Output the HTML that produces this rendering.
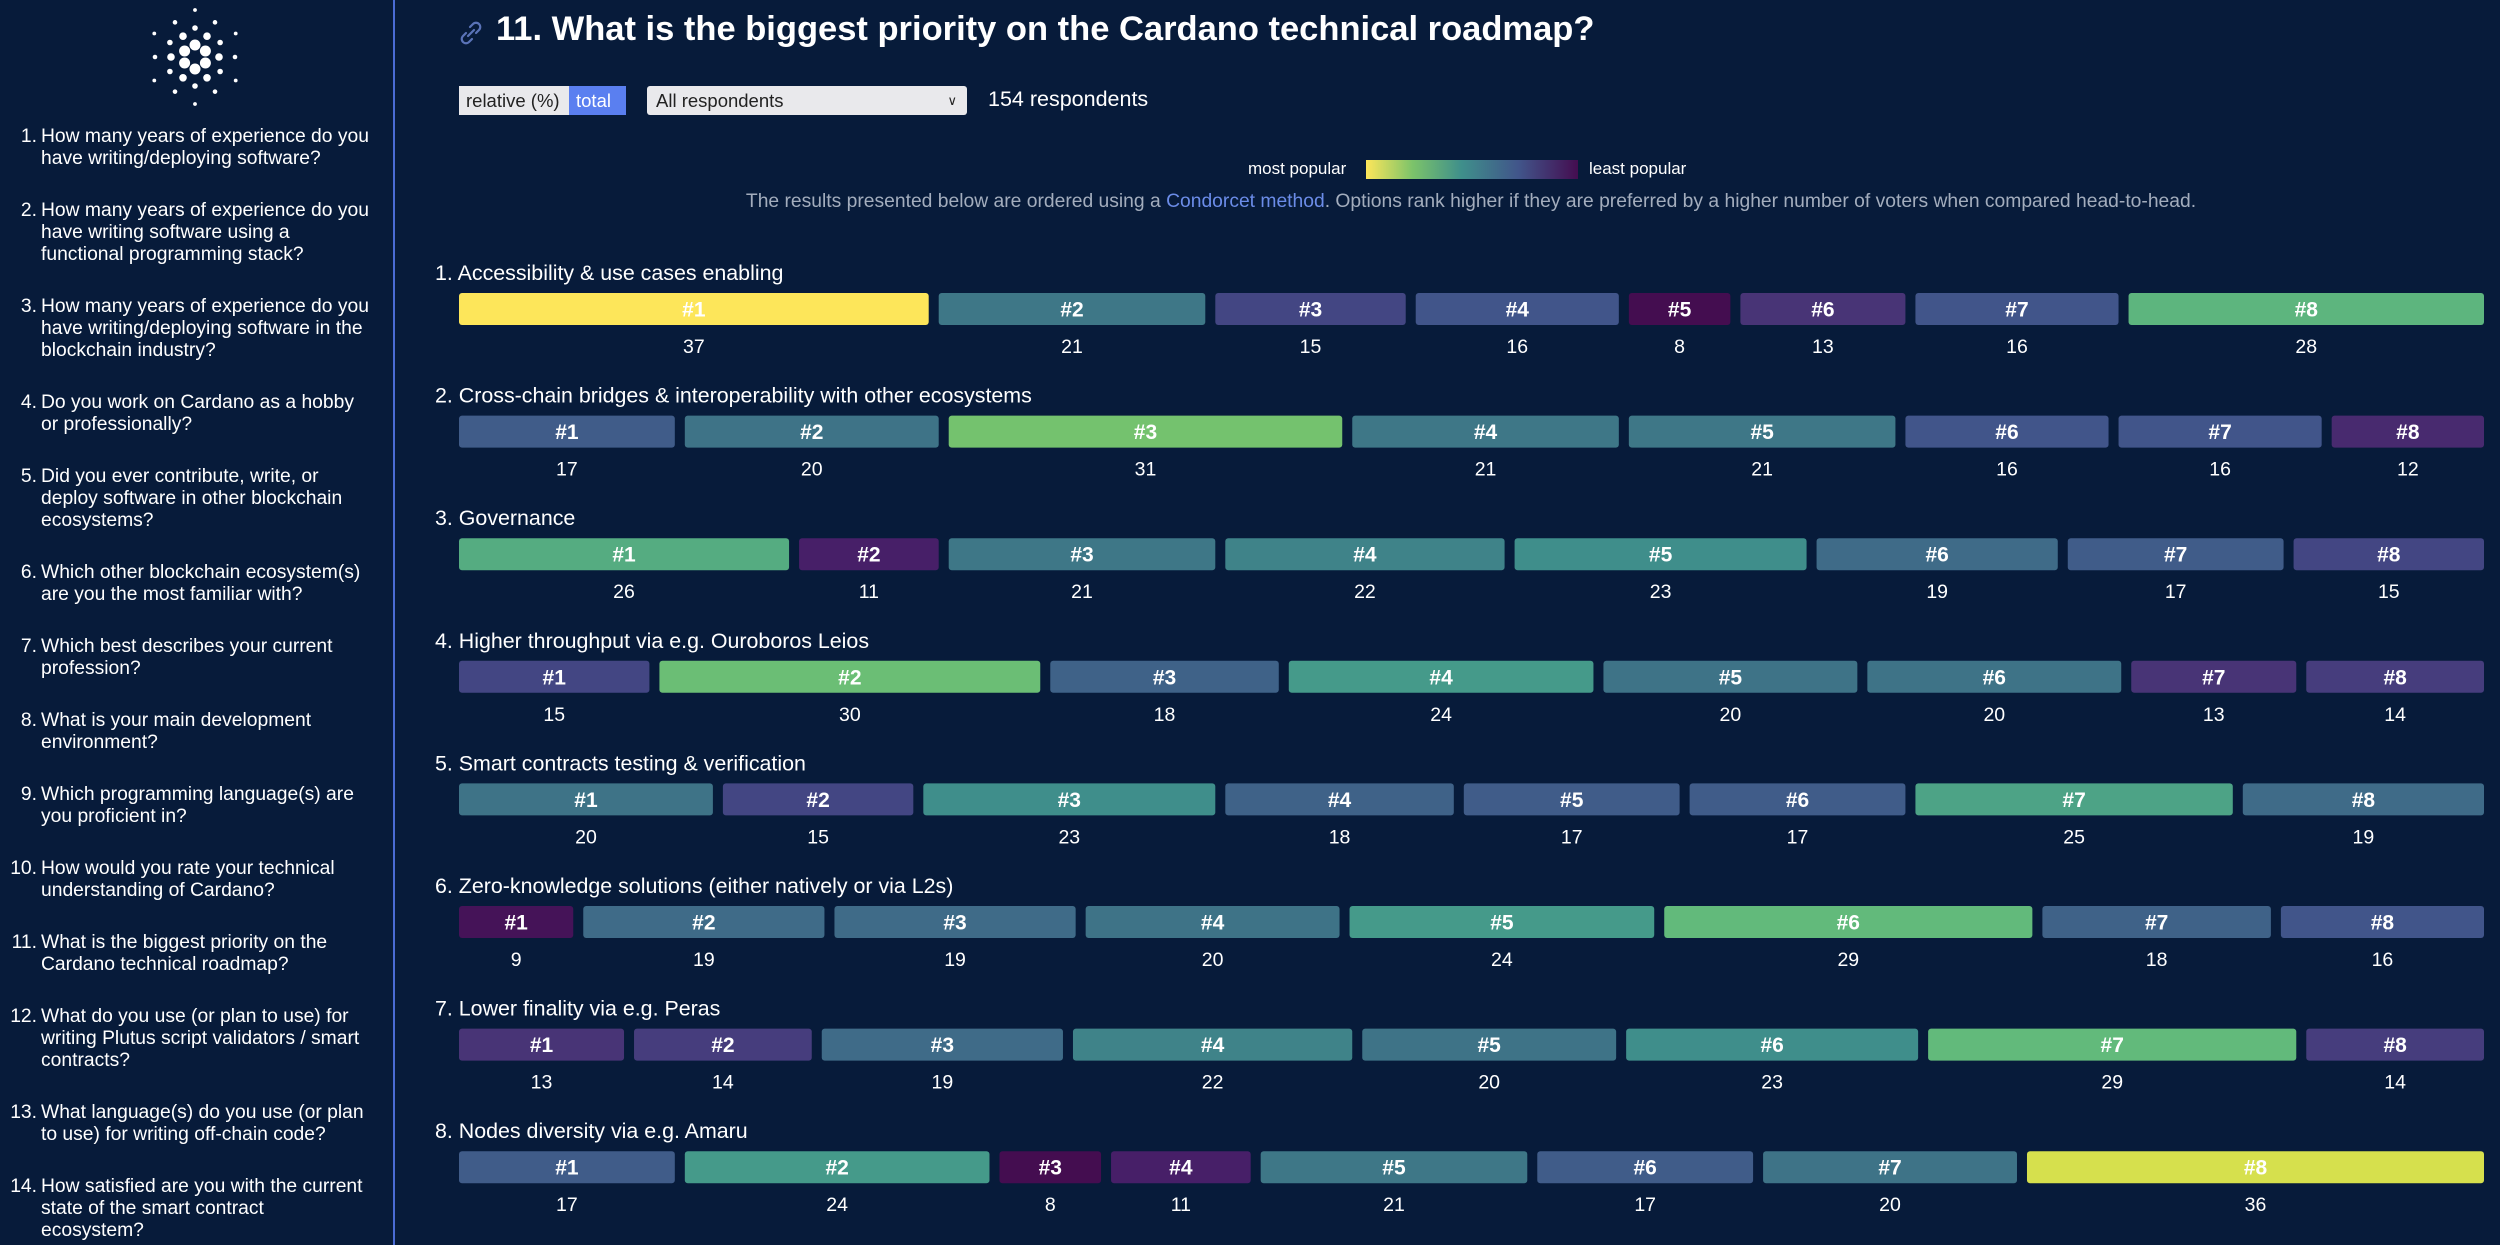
<!DOCTYPE html>
<html><head><meta charset="utf-8">
<style>
html,body{margin:0;padding:0;width:2500px;height:1245px;overflow:hidden;background:#071b3a;font-family:"Liberation Sans",sans-serif;color:#fff}
#sidebar{position:absolute;left:0;top:0;width:393px;height:1245px;border-right:2px solid #4a6cd4}
.item{position:absolute;left:0;width:390px;font-size:19.3px;line-height:22px;color:#fff}
.item .n{position:absolute;left:0;width:37px;text-align:right}
.item .t{position:absolute;left:41px;white-space:nowrap}
#title{position:absolute;left:496px;top:10px;font-size:34.5px;font-weight:bold;white-space:nowrap}
.ctl{position:absolute;top:86px;height:29px;font-size:18.5px;line-height:29px;color:#222;box-sizing:border-box}
#desc{position:absolute;left:0;width:2500px;padding-left:442px;box-sizing:border-box;top:191px;text-align:center;font-size:19.3px;color:#a3adbd;white-space:nowrap}
.lg{position:absolute;top:159px;font-size:17px;color:#fff;white-space:nowrap}
</style></head><body>
<div id="sidebar">
<svg width="393" height="110" style="position:absolute;left:0;top:0" id="logo"></svg>
</div>
<svg style="position:absolute;left:458px;top:20px" width="26" height="26" viewBox="0 0 26 26"><path d="M10 16 L16 10 M8 13 l-3 3 a4 4 0 0 0 6 6 l3 -3 M18 13 l3 -3 a4 4 0 0 0 -6 -6 l-3 3" stroke="#5a73b8" stroke-width="2.2" fill="none" stroke-linecap="round"/></svg>
<div id="title">11. What is the biggest priority on the Cardano technical roadmap?</div>
<div class="ctl" style="left:459px;width:110px;background:#e9e9ec;padding-left:7px">relative (%)</div>
<div class="ctl" style="left:569px;width:57px;background:#5a7ff0;color:#fff;padding-left:7px">total</div>
<div class="ctl" style="left:647px;width:320px;background:#e9e9ec;padding-left:9px;border-radius:3px">All respondents<span style="position:absolute;right:10px;font-size:13px">&#x2228;</span></div>
<div style="position:absolute;left:988px;top:85px;line-height:29px;font-size:21.5px">154 respondents</div>
<div class="lg" style="left:1248px">most popular</div>
<div style="position:absolute;left:1366px;top:160px;width:212px;height:19px;background:linear-gradient(90deg,#fde65a 0%,#7cc36a 22%,#3f8f8b 45%,#41558a 72%,#440d50 100%)"></div>
<div class="lg" style="left:1589px">least popular</div>
<div id="desc">The results presented below are ordered using a <span style="color:#6b8ce8">Condorcet method</span>. Options rank higher if they are preferred by a higher number of voters when compared head-to-head.</div>
<svg id="chart" width="2500" height="1245" style="position:absolute;left:0;top:0;pointer-events:none"></svg>
<script>
const options = ["1. Accessibility & use cases enabling","2. Cross-chain bridges & interoperability with other ecosystems","3. Governance","4. Higher throughput via e.g. Ouroboros Leios","5. Smart contracts testing & verification","6. Zero-knowledge solutions (either natively or via L2s)","7. Lower finality via e.g. Peras","8. Nodes diversity via e.g. Amaru"];
const ranks = ["#1","#2","#3","#4","#5","#6","#7","#8"];
const row1 = [37,21,15,16,8,13,16,28];
const row2 = [17,20,31,21,21,16,16,12];
const row3 = [26,11,21,22,23,19,17,15];
const row4 = [15,30,18,24,20,20,13,14];
const row5 = [20,15,23,18,17,17,25,19];
const row6 = [9,19,19,20,24,29,18,16];
const row7 = [13,14,19,22,20,23,29,14];
const row8 = [17,24,8,11,21,17,20,36];
const rows = [row1,row2,row3,row4,row5,row6,row7,row8];
const sideItems = [
["How many years of experience do you","have writing/deploying software?"],
["How many years of experience do you","have writing software using a","functional programming stack?"],
["How many years of experience do you","have writing/deploying software in the","blockchain industry?"],
["Do you work on Cardano as a hobby","or professionally?"],
["Did you ever contribute, write, or","deploy software in other blockchain","ecosystems?"],
["Which other blockchain ecosystem(s)","are you the most familiar with?"],
["Which best describes your current","profession?"],
["What is your main development","environment?"],
["Which programming language(s) are","you proficient in?"],
["How would you rate your technical","understanding of Cardano?"],
["What is the biggest priority on the","Cardano technical roadmap?"],
["What do you use (or plan to use) for","writing Plutus script validators / smart","contracts?"],
["What language(s) do you use (or plan","to use) for writing off-chain code?"],
["How satisfied are you with the current","state of the smart contract","ecosystem?"]];
const NS="http://www.w3.org/2000/svg";
const sb=document.getElementById('sidebar');
let y=126;
sideItems.forEach((lines,i)=>{
  const d=document.createElement('div');d.className='item';
  
  
  d.style.top=y+'px';d.style.height=(lines.length*22)+'px';
  d.innerHTML='<span class="n">'+(i+1)+'.</span><span class="t">'+lines.join('<br>')+'</span>';
  sb.appendChild(d);
  y+=lines.length*22+30;
});
const logo=document.getElementById('logo');
function dot(cx,cy,r){const c=document.createElementNS(NS,'circle');c.setAttribute('cx',cx);c.setAttribute('cy',cy);c.setAttribute('r',r);c.setAttribute('fill','#fff');logo.appendChild(c);}
const LX=195,LY=57;
[[12,5.5,0],[24,3.8,30],[29,2.8,0],[40,2.3,30],[47,1.9,0]].forEach(([R,r,off])=>{for(let k=0;k<6;k++){const a=(k*60+off+90)*Math.PI/180;dot(LX+R*Math.cos(a),LY+R*Math.sin(a),r);}});
const svg=document.getElementById('chart');
const X0=459,X1=2484,GAP=10,ROW0=273,PITCH=122.6;
const stops=[[8,'#440d50'],[11,'#471f68'],[13,'#483476'],[15,'#434683'],[16,'#41558a'],[18,'#3f6288'],[20,'#3e7387'],[21,'#3e7787'],[23,'#3f8e8b'],[24,'#459a8a'],[26,'#55ac81'],[28,'#5db57e'],[29,'#62ba7b'],[31,'#74c26e'],[36,'#d6e04d'],[37,'#fde65a']];
function hx(h){return [1,3,5].map(i=>parseInt(h.substr(i,2),16));}
function color(v){
  if(v<=stops[0][0])return stops[0][1];
  for(let i=1;i<stops.length;i++){if(v<=stops[i][0]){const a=hx(stops[i-1][1]),b=hx(stops[i][1]),t=(v-stops[i-1][0])/(stops[i][0]-stops[i-1][0]);return 'rgb('+a.map((c,j)=>Math.round(c+(b[j]-c)*t)).join(',')+')';}}
  return stops[stops.length-1][1];
}
function txt(x,y,s,size,weight,anchor){const t=document.createElementNS(NS,'text');t.setAttribute('x',x);t.setAttribute('y',y);t.setAttribute('font-size',size);t.setAttribute('font-family','Liberation Sans, sans-serif');t.setAttribute('fill','#fff');if(weight)t.setAttribute('font-weight',weight);t.setAttribute('text-anchor',anchor||'start');t.setAttribute('dominant-baseline','central');t.textContent=s;return t;}
rows.forEach((vals,ri)=>{
  const ly=ROW0+ri*PITCH;
  const g=document.createElementNS(NS,'g');
  
  
  const lab=txt(435,ly,options[ri],21.4,null,'start');
  
  
  g.appendChild(lab);
  const total=vals.reduce((a,b)=>a+b,0);
  const avail=(X1-X0)-GAP*(vals.length-1);
  let x=X0;
  vals.forEach((v,k)=>{
    const w=v/total*avail;
    const r=document.createElementNS(NS,'rect');
    r.setAttribute('x',x);r.setAttribute('y',ly+20);r.setAttribute('width',w);r.setAttribute('height',32);r.setAttribute('rx',3);r.setAttribute('fill',color(v));
    
    
    g.appendChild(r);
    const bl=txt(x+w/2,ly+37,ranks[k],21,'bold','middle');
    
    
    g.appendChild(bl);
    const vl=txt(x+w/2,ly+74,String(v),19.5,null,'middle');
    
    
    g.appendChild(vl);
    x+=w+GAP;
  });
  svg.appendChild(g);
});
</script>
</body></html>
